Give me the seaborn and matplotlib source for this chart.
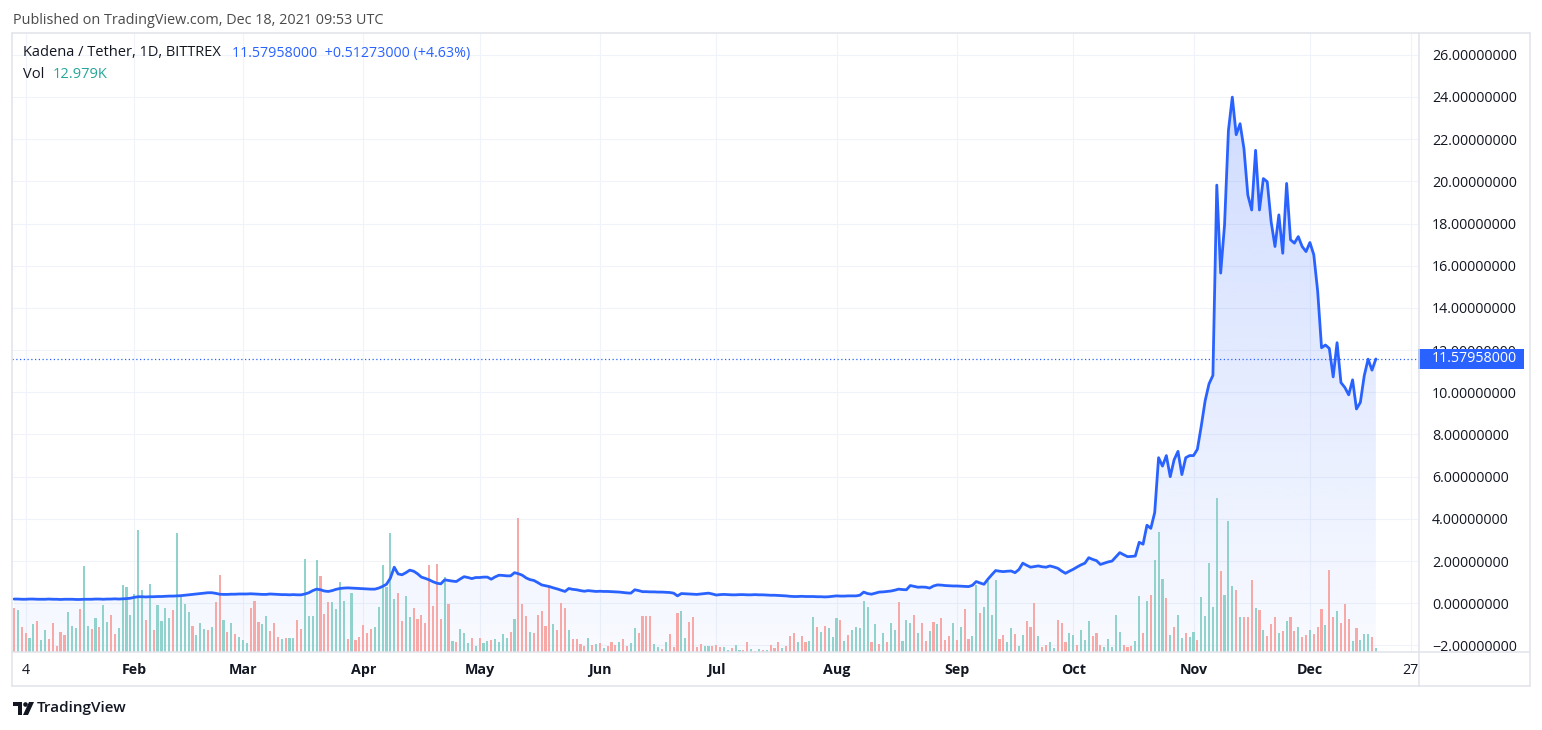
import numpy as np
import pandas as pd
import matplotlib
matplotlib.use("Agg")
import matplotlib.pyplot as plt
import matplotlib.dates as mdates
import matplotlib.transforms as mtransforms
from matplotlib.colors import to_rgb
from matplotlib.lines import Line2D
from matplotlib.patches import Polygon, Ellipse, Rectangle
import seaborn as sns

# Kadena / Tether daily close (BITTREX)
close_jan = [0.20, 0.20, 0.19, 0.19, 0.20, 0.20, 0.19, 0.19, 0.19, 0.20, 0.19, 0.19, 0.18, 0.19, 0.19, 0.19,
             0.18, 0.18, 0.19, 0.19, 0.19, 0.20, 0.20, 0.19, 0.20, 0.20, 0.21, 0.20, 0.21, 0.22, 0.24]
close_feb = [0.28, 0.31, 0.31, 0.30, 0.31, 0.31, 0.32, 0.32, 0.33, 0.34, 0.34, 0.35, 0.36, 0.38,
             0.40, 0.42, 0.44, 0.46, 0.48, 0.50, 0.50, 0.47, 0.43, 0.42, 0.42, 0.43, 0.43, 0.44]
close_mar = [0.44, 0.44, 0.45, 0.44, 0.43, 0.42, 0.42, 0.44, 0.43, 0.42, 0.41, 0.41, 0.40, 0.41, 0.40, 0.40,
             0.44, 0.50, 0.60, 0.67, 0.64, 0.58, 0.56, 0.60, 0.66, 0.70, 0.72, 0.73, 0.72, 0.71, 0.70]
close_apr = [0.69, 0.68, 0.67, 0.67, 0.72, 0.80, 0.90, 1.19, 1.71, 1.39, 1.35, 1.45, 1.57, 1.52, 1.40,
             1.24, 1.18, 1.11, 1.02, 0.95, 0.92, 1.11, 1.08, 1.05, 1.03, 1.15, 1.26, 1.22, 1.17, 1.22]
close_may = [1.22, 1.24, 1.24, 1.14, 1.25, 1.33, 1.32, 1.30, 1.30, 1.45, 1.40, 1.33, 1.20, 1.12, 1.08, 0.98,
             0.87, 0.83, 0.79, 0.73, 0.68, 0.62, 0.56, 0.70, 0.66, 0.64, 0.60, 0.57, 0.60, 0.58, 0.56]
close_jun = [0.57, 0.56, 0.56, 0.55, 0.54, 0.53, 0.51, 0.49, 0.48, 0.64, 0.60, 0.55, 0.55, 0.54, 0.54,
             0.53, 0.53, 0.52, 0.51, 0.48, 0.35, 0.46, 0.45, 0.44, 0.43, 0.42, 0.44, 0.46, 0.48, 0.44]
close_jul = [0.39, 0.41, 0.42, 0.41, 0.40, 0.40, 0.41, 0.41, 0.40, 0.40, 0.41, 0.40, 0.40, 0.39, 0.38, 0.38,
             0.37, 0.36, 0.35, 0.33, 0.32, 0.32, 0.33, 0.32, 0.32, 0.32, 0.31, 0.31, 0.30, 0.31, 0.33]
close_aug = [0.35, 0.34, 0.34, 0.35, 0.35, 0.35, 0.38, 0.53, 0.46, 0.43, 0.48, 0.53, 0.54, 0.56, 0.58, 0.62,
             0.67, 0.65, 0.64, 0.84, 0.80, 0.76, 0.77, 0.76, 0.72, 0.82, 0.87, 0.86, 0.84, 0.83, 0.82]
close_sep = [0.82, 0.81, 0.80, 0.79, 0.85, 1.03, 0.96, 0.90, 1.14, 1.35, 1.55, 1.52, 1.50, 1.52, 1.53,
             1.45, 1.60, 1.90, 1.80, 1.71, 1.74, 1.77, 1.73, 1.71, 1.77, 1.72, 1.66, 1.53, 1.42, 1.52]
close_oct = [1.61, 1.72, 1.82, 1.90, 2.16, 2.08, 2.02, 1.84, 1.90, 1.96, 2.00, 2.20, 2.40, 2.30, 2.21, 2.22,
             2.24, 2.89, 2.80, 3.70, 3.55, 4.30, 6.90, 6.50, 7.00, 6.00, 6.80, 7.20, 6.10, 6.90, 7.00]
close_nov = [7.00, 7.30, 8.40, 9.60, 10.40, 10.80, 19.82, 15.65, 17.93, 22.41, 23.99, 22.21, 22.73, 21.55,
             19.35, 18.64, 21.47, 18.64, 20.13, 19.98, 18.09, 16.91, 18.41, 16.59, 19.90, 17.23, 17.07,
             17.38, 16.91, 16.67]
close_dec = [17.10, 16.52, 14.79, 12.11, 12.24, 12.08, 10.73, 12.35, 10.46, 10.23, 9.88, 10.59, 9.21, 9.52,
             10.78, 11.57, 11.05, 11.57958]

# daily volume in thousands
vol_jan = [132, 126, 75, 57, 42, 84, 93, 36, 66, 39, 87, 18, 60, 51, 120, 78, 72, 129, 258, 78,
           69, 102, 75, 141, 90, 111, 54, 72, 201, 195, 111]
vol_feb = [174, 366, 186, 96, 204, 66, 141, 93, 132, 102, 126, 357, 165, 144, 120, 78, 51, 87, 69, 66,
           75, 150, 231, 96, 60, 87, 54, 45]
vol_mar = [36, 27, 132, 153, 90, 84, 108, 63, 87, 45, 39, 42, 42, 42, 96, 69, 279, 108, 108, 276,
           228, 114, 150, 150, 129, 210, 153, 39, 177, 36, 45]
vol_apr = [81, 57, 69, 75, 135, 261, 195, 357, 159, 177, 93, 168, 105, 132, 99, 111, 87, 261, 138, 264,
           99, 225, 144, 33, 30, 69, 57, 27, 42, 18]
vol_may = [42, 27, 33, 36, 39, 30, 54, 42, 60, 99, 402, 144, 108, 60, 57, 111, 123, 78, 195, 84,
           66, 147, 132, 66, 39, 39, 24, 18, 42, 21, 24]
vol_jun = [27, 12, 18, 30, 21, 30, 39, 18, 27, 72, 57, 108, 108, 108, 24, 15, 9, 30, 54, 15,
           117, 123, 42, 90, 105, 15, 24, 18, 18, 18]
vol_jul = [21, 15, 15, 6, 12, 21, 6, 6, 30, 9, 3, 9, 6, 6, 21, 12, 30, 12, 18, 48,
           57, 30, 48, 30, 33, 105, 75, 60, 78, 72, 45]
vol_aug = [102, 96, 33, 51, 66, 75, 72, 153, 135, 30, 84, 24, 57, 30, 87, 66, 150, 33, 96, 87,
           111, 57, 87, 33, 63, 90, 84, 102, 36, 48, 87]
vol_sep = [36, 75, 129, 39, 48, 201, 117, 135, 213, 111, 216, 39, 51, 30, 72, 54, 18, 51, 93, 75,
           147, 48, 15, 21, 30, 12, 96, 87, 30, 57]
vol_oct = [51, 21, 66, 36, 93, 48, 57, 21, 15, 39, 15, 111, 60, 21, 15, 18, 33, 168, 57, 153,
           171, 276, 360, 219, 162, 51, 75, 111, 42, 57, 45]
vol_nov = [60, 36, 165, 108, 267, 135, 462, 243, 171, 393, 198, 186, 105, 105, 105, 216, 132, 126, 66, 48,
           84, 105, 57, 63, 93, 105, 63, 75, 45, 51]
vol_dec = [66, 54, 75, 129, 81, 246, 105, 123, 87, 144, 99, 33, 72, 36, 54, 54, 45, 12.979]

# candle direction per day: g = up, r = down
dir_jan = "rgrrggrggrrrrrgggrggrgrggrrgggg"
dir_feb = "gggrgrggggrggggrgggrgrrgrgrg"
dir_mar = "ggrrrggrrrgrggrrggggrrrggggrgrr"
dir_apr = "rrrggggggrrggrrrrrrrrgrgrgggrg"
dir_may = "rggrggggrgrrrgrrrrrgrrrgrrrrgrg"
dir_jun = "rgrrrgrrggrrrrggrgrrrggrrrrggr"
dir_jul = "rrggrggrrgrgrgrrrgrrrgrrggrgrgg"
dir_aug = "grgrgggggrgrgrggrgggrgrrgrgrrrg"
dir_sep = "rgrrggrggggrrggrggrrrgrrggrrrg"
dir_oct = "grgggrrrgggggrrrggrgrgggrgrggrg"
dir_nov = "grgggggrgggrgrrrgrgrrrgrgrrgrr"
dir_dec = "grrrgrrgrrrgrgggrg"

tick_dates = ["2021-01-04", "2021-02-01", "2021-03-01", "2021-04-01", "2021-05-01", "2021-06-01",
              "2021-07-01", "2021-08-01", "2021-09-01", "2021-10-01", "2021-11-01", "2021-12-01", "2021-12-27"]
tick_labels = ["4", "Feb", "Mar", "Apr", "May", "Jun", "Jul", "Aug", "Sep", "Oct", "Nov", "Dec", "27"]
price_ticks = list(range(-2, 27, 2))

close = (close_jan + close_feb + close_mar + close_apr + close_may + close_jun +
         close_jul + close_aug + close_sep + close_oct + close_nov + close_dec)
volume = (vol_jan + vol_feb + vol_mar + vol_apr + vol_may + vol_jun +
          vol_jul + vol_aug + vol_sep + vol_oct + vol_nov + vol_dec)
direction = (dir_jan + dir_feb + dir_mar + dir_apr + dir_may + dir_jun +
             dir_jul + dir_aug + dir_sep + dir_oct + dir_nov + dir_dec)

dates = pd.date_range("2021-01-01", "2021-12-18", freq="D")
df = pd.DataFrame({"date": dates, "close": close, "volume": volume, "dir": list(direction)})
df["x"] = mdates.date2num(df["date"])
last = df["close"].iloc[-1]

BLUE = "#2962ff"
UP = "#92d2cc"
DOWN = "#f7a9a7"
BORDER = "#e0e3eb"
GRID = "#f0f3fa"
TEXT = "#131722"

sns.set_theme(style="white")
plt.rcParams["font.family"] = ["Open Sans", "DejaVu Sans"]

W, H = 1542, 730
fig = plt.figure(figsize=(W / 100, H / 100), dpi=100)
L, R, T, B = 12, 1418, 33, 652
ax = fig.add_axes([L / W, 1 - B / H, (R - L) / W, (B - T) / H])
ax_v = ax.twinx()   # volume pane
ax_l = ax.twinx()   # price line on top

x0 = mdates.date2num(pd.Timestamp("2021-01-01")) - 0.515
x1 = mdates.date2num(pd.Timestamp("2021-01-01")) + 361.86
ylo, yhi = -2.31, 27.03

# gradient area under the price line
fill = ax.fill_between(df["x"], df["close"], ylo, facecolor="none", edgecolor="none")
grad = np.zeros((256, 1, 4))
grad[:, 0, :3] = to_rgb(BLUE)
grad[:, 0, 3] = np.linspace(0.22, 0.03, 256)
im = ax.imshow(grad, aspect="auto", origin="upper", zorder=1,
               extent=[df["x"].iloc[0], df["x"].iloc[-1], ylo, df["close"].max()])
im.set_clip_path(fill.get_paths()[0], transform=ax.transData)

ax.set_xlim(x0, x1)
ax.set_ylim(ylo, yhi)
ax.set_xticks(mdates.date2num(pd.to_datetime(tick_dates)))
ax.set_xticklabels(tick_labels)
for lab, txt in zip(ax.get_xticklabels(), tick_labels):
    lab.set_fontweight("normal" if txt.isdigit() else "bold")
ax.yaxis.set_ticks_position("right")
ax.yaxis.set_label_position("right")
ax.set_yticks(price_ticks)
ax.set_yticklabels([f"{v:.8f}".replace("-", "\u2212") for v in price_ticks])
ax.tick_params(axis="both", length=0, labelsize=10.3, colors=TEXT)
ax.tick_params(axis="y", pad=10, labelright=True, labelleft=False)
ax.tick_params(axis="x", pad=8)
ax.grid(True, color=GRID, lw=0.8)
for s in ax.spines.values():
    s.set_visible(False)

ax_v.bar(df["x"], df["volume"], width=0.55,
         color=[UP if d == "g" else DOWN for d in df["dir"]], linewidth=0)
ax_v.set_ylim(0, (B - T) * 3)
ax_v.set_yticks([])
for s in ax_v.spines.values():
    s.set_visible(False)

sns.lineplot(data=df, x="x", y="close", ax=ax_l, color=BLUE, lw=2)
ax_l.axhline(last, color=BLUE, lw=0.9, ls=(0, (1, 2)))
ax_l.set_ylim(ylo, yhi)
ax_l.set_xlim(x0, x1)
ax_l.set_yticks([])
ax_l.set_xlabel("")
ax_l.set_ylabel("")
for s in ax_l.spines.values():
    s.set_visible(False)

# last price tag on the price scale
blend = mtransforms.blended_transform_factory(ax.transAxes, ax.transData)
h_units = 20 / ((B - T) / (yhi - ylo))
ax_l.add_patch(Rectangle((1.0, last - h_units / 2), (1524 - R) / (R - L), h_units,
                         transform=blend, facecolor=BLUE, edgecolor="none", clip_on=False, zorder=5))
ax_l.text((1432 - L) / (R - L), last, f"{last:.8f}", transform=blend, color="white",
          fontsize=10.3, va="center", ha="left", zorder=6, clip_on=False)

# pane frame
def fline(xa, ya, xb, yb):
    fig.add_artist(Line2D([xa / W, xb / W], [1 - ya / H, 1 - yb / H], color=BORDER, lw=1.1))

fline(12, 33, 1530, 33)
fline(12, 686, 1530, 686)
fline(12, 33, 12, 686)
fline(1530, 33, 1530, 686)
fline(1419, 33, 1419, 686)
fline(12, 652, 1530, 652)

# header texts
fig.text(13 / W, 1 - 20 / H, "Published on TradingView.com, Dec 18, 2021 09:53 UTC",
         fontsize=10.4, color="#4a4a4a", va="center")
fig.text(23 / W, 1 - 53 / H, "Kadena / Tether, 1D, BITTREX", fontsize=10.5, color=TEXT, va="center")
fig.text(232 / W, 1 - 53 / H, "11.57958000  +0.51273000 (+4.63%)", fontsize=10.3, color=BLUE, va="center")
fig.text(23 / W, 1 - 75 / H, "Vol", fontsize=10.5, color=TEXT, va="center")
fig.text(53 / W, 1 - 75 / H, "12.979K", fontsize=10.5, color="#26a69a", va="center")

# TradingView logo
def fp(x, y):
    return (x / W, 1 - y / H)

fig.add_artist(Polygon([fp(13, 702), fp(22, 702), fp(22, 715), fp(18, 715), fp(18, 706), fp(13, 706)],
                       closed=True, transform=fig.transFigure, facecolor=TEXT, edgecolor="none"))
fig.add_artist(Ellipse(fp(25.5, 704.5), 4.6 / W, 4.6 / H, transform=fig.transFigure,
                       facecolor=TEXT, edgecolor="none"))
fig.add_artist(Polygon([fp(29, 702), fp(34, 702), fp(28, 715), fp(23, 715)],
                       closed=True, transform=fig.transFigure, facecolor=TEXT, edgecolor="none"))
fig.text(37 / W, 1 - 708 / H, "TradingView", fontsize=11, fontweight="semibold", color=TEXT, va="center")

fig.savefig("out.png", dpi=100, facecolor="white")
